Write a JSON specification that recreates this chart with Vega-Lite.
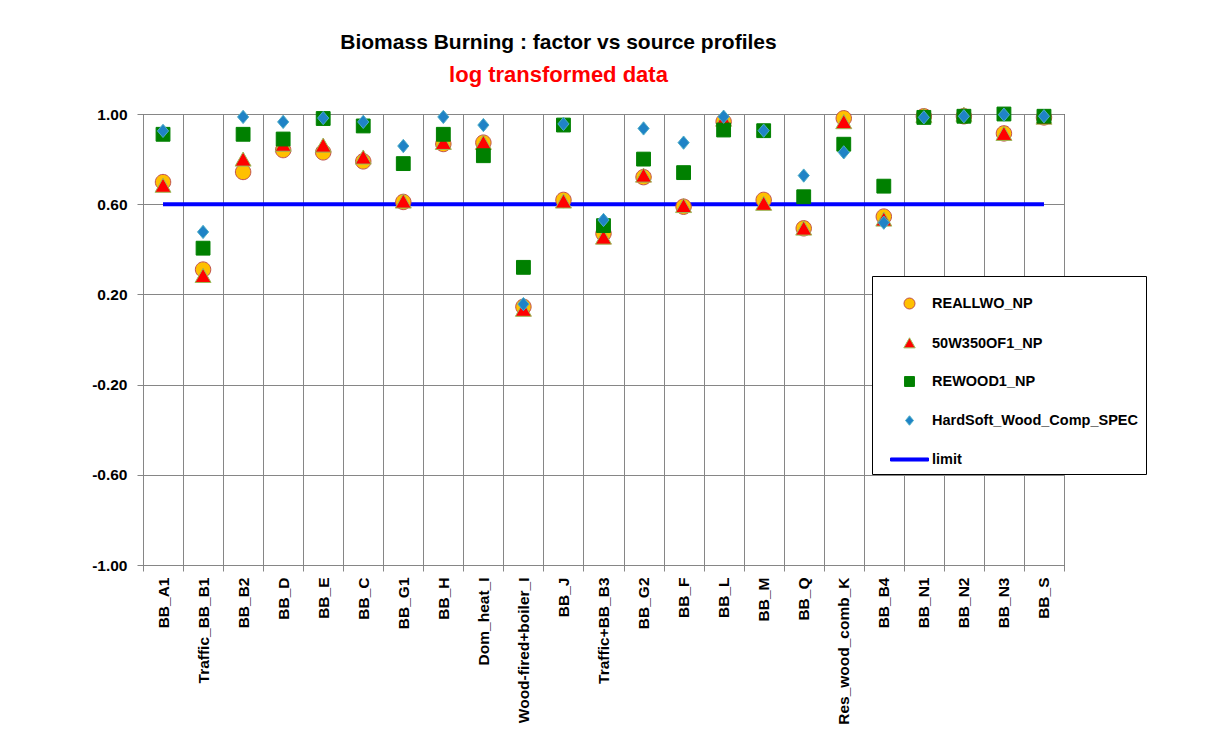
{
  "$schema": "https://vega.github.io/schema/vega-lite/v6.json",
  "width": 921,
  "height": 451,
  "autosize": {"type": "none"},
  "padding": {"left": 143, "top": 114, "right": 148, "bottom": 188},
  "background": "white",
  "title": {
    "text": "Biomass Burning : factor vs source profiles",
    "subtitle": "log transformed data",
    "anchor": "middle",
    "dx": -45,
    "offset": 19,
    "font": "Liberation Sans",
    "fontSize": 21,
    "fontWeight": "bold",
    "color": "black",
    "subtitleFont": "Liberation Sans",
    "subtitleFontSize": 22,
    "subtitleFontWeight": "bold",
    "subtitleColor": "#FF0000",
    "subtitlePadding": 12
  },
  "data": {
    "values": [
      {"cat": "BB_A1", "REALLWO_NP": 0.698, "50W350OF1_NP": 0.68, "REWOOD1_NP": 0.91, "HardSoft_Wood_Comp_SPEC": 0.925, "limit": 0.6},
      {"cat": "Traffic_BB_B1", "REALLWO_NP": 0.31, "50W350OF1_NP": 0.28, "REWOOD1_NP": 0.405, "HardSoft_Wood_Comp_SPEC": 0.477, "limit": 0.6},
      {"cat": "BB_B2", "REALLWO_NP": 0.743, "50W350OF1_NP": 0.796, "REWOOD1_NP": 0.91, "HardSoft_Wood_Comp_SPEC": 0.987, "limit": 0.6},
      {"cat": "BB_D", "REALLWO_NP": 0.84, "50W350OF1_NP": 0.862, "REWOOD1_NP": 0.889, "HardSoft_Wood_Comp_SPEC": 0.965, "limit": 0.6},
      {"cat": "BB_E", "REALLWO_NP": 0.83, "50W350OF1_NP": 0.858, "REWOOD1_NP": 0.98, "HardSoft_Wood_Comp_SPEC": 0.982, "limit": 0.6},
      {"cat": "BB_C", "REALLWO_NP": 0.79, "50W350OF1_NP": 0.805, "REWOOD1_NP": 0.947, "HardSoft_Wood_Comp_SPEC": 0.965, "limit": 0.6},
      {"cat": "BB_G1", "REALLWO_NP": 0.61, "50W350OF1_NP": 0.61, "REWOOD1_NP": 0.78, "HardSoft_Wood_Comp_SPEC": 0.858, "limit": 0.6},
      {"cat": "BB_H", "REALLWO_NP": 0.867, "50W350OF1_NP": 0.87, "REWOOD1_NP": 0.91, "HardSoft_Wood_Comp_SPEC": 0.987, "limit": 0.6},
      {"cat": "Dom_heat_I", "REALLWO_NP": 0.873, "50W350OF1_NP": 0.87, "REWOOD1_NP": 0.815, "HardSoft_Wood_Comp_SPEC": 0.951, "limit": 0.6},
      {"cat": "Wood-fired+boiler_I", "REALLWO_NP": 0.145, "50W350OF1_NP": 0.13, "REWOOD1_NP": 0.32, "HardSoft_Wood_Comp_SPEC": 0.157, "limit": 0.6},
      {"cat": "BB_J", "REALLWO_NP": 0.619, "50W350OF1_NP": 0.61, "REWOOD1_NP": 0.951, "HardSoft_Wood_Comp_SPEC": 0.956, "limit": 0.6},
      {"cat": "Traffic+BB_B3", "REALLWO_NP": 0.47, "50W350OF1_NP": 0.45, "REWOOD1_NP": 0.505, "HardSoft_Wood_Comp_SPEC": 0.53, "limit": 0.6},
      {"cat": "BB_G2", "REALLWO_NP": 0.72, "50W350OF1_NP": 0.725, "REWOOD1_NP": 0.8, "HardSoft_Wood_Comp_SPEC": 0.936, "limit": 0.6},
      {"cat": "BB_F", "REALLWO_NP": 0.589, "50W350OF1_NP": 0.59, "REWOOD1_NP": 0.74, "HardSoft_Wood_Comp_SPEC": 0.873, "limit": 0.6},
      {"cat": "BB_L", "REALLWO_NP": 0.966, "50W350OF1_NP": 0.973, "REWOOD1_NP": 0.929, "HardSoft_Wood_Comp_SPEC": 0.988, "limit": 0.6},
      {"cat": "BB_M", "REALLWO_NP": 0.619, "50W350OF1_NP": 0.6, "REWOOD1_NP": 0.926, "HardSoft_Wood_Comp_SPEC": 0.926, "limit": 0.6},
      {"cat": "BB_Q", "REALLWO_NP": 0.493, "50W350OF1_NP": 0.49, "REWOOD1_NP": 0.633, "HardSoft_Wood_Comp_SPEC": 0.727, "limit": 0.6},
      {"cat": "Res_wood_comb_K", "REALLWO_NP": 0.981, "50W350OF1_NP": 0.962, "REWOOD1_NP": 0.866, "HardSoft_Wood_Comp_SPEC": 0.83, "limit": 0.6},
      {"cat": "BB_B4", "REALLWO_NP": 0.545, "50W350OF1_NP": 0.53, "REWOOD1_NP": 0.68, "HardSoft_Wood_Comp_SPEC": 0.518, "limit": 0.6},
      {"cat": "BB_N1", "REALLWO_NP": 0.99, "50W350OF1_NP": 0.99, "REWOOD1_NP": 0.985, "HardSoft_Wood_Comp_SPEC": 0.985, "limit": 0.6},
      {"cat": "BB_N2", "REALLWO_NP": 0.99, "50W350OF1_NP": 0.995, "REWOOD1_NP": 0.99, "HardSoft_Wood_Comp_SPEC": 0.99, "limit": 0.6},
      {"cat": "BB_N3", "REALLWO_NP": 0.914, "50W350OF1_NP": 0.91, "REWOOD1_NP": 1.0, "HardSoft_Wood_Comp_SPEC": 0.997, "limit": 0.6},
      {"cat": "BB_S", "REALLWO_NP": 0.985, "50W350OF1_NP": 0.982, "REWOOD1_NP": 0.99, "HardSoft_Wood_Comp_SPEC": 0.99, "limit": 0.6}
    ]
  },
  "encoding": {
    "x": {
      "field": "cat",
      "type": "nominal",
      "sort": null,
      "title": null,
      "scale": {"type": "band", "paddingInner": 0, "paddingOuter": 0},
      "axis": {
        "labelAngle": -90,
        "labelAlign": "right",
        "labelBaseline": "middle",
        "labelFont": "Liberation Sans",
        "labelFontSize": 15.5,
        "labelFontWeight": "bold",
        "labelColor": "black",
        "labelPadding": 6,
        "tickBand": "extent",
        "tickSize": 6,
        "tickColor": "#868686",
        "domainColor": "#868686",
        "grid": true,
        "gridColor": "#868686",
        "gridWidth": 1,
        "labelLimit": 300
      }
    },
    "y": {
      "field": "value",
      "type": "quantitative",
      "title": null,
      "scale": {"domain": [-1, 1], "nice": false, "zero": false},
      "axis": {
        "values": [-1, -0.6, -0.2, 0.2, 0.6, 1],
        "format": ".2f",
        "labelExpr": "replace(datum.label, '\u2212', '-')",
        "labelFont": "Liberation Sans",
        "labelFontSize": 15.5,
        "labelFontWeight": "bold",
        "labelColor": "black",
        "labelPadding": 10,
        "tickSize": 6,
        "tickColor": "#868686",
        "domainColor": "#868686",
        "grid": true,
        "gridColor": "#868686",
        "gridWidth": 1
      }
    }
  },
  "layer": [
    {
      "transform": [{"fold": ["limit"], "as": ["series", "value"]}],
      "mark": {"type": "line", "strokeWidth": 4},
      "encoding": {
        "stroke": {"field": "series", "type": "nominal",
          "scale": {
            "domain": ["REALLWO_NP", "50W350OF1_NP", "REWOOD1_NP", "HardSoft_Wood_Comp_SPEC", "limit"],
            "range": ["#C0504D", "#9BBB59", "#008000", "#4BACC6", "#0000FF"]
          }
        }
      }
    },
    {
      "transform": [{"fold": ["REALLWO_NP", "50W350OF1_NP", "REWOOD1_NP", "HardSoft_Wood_Comp_SPEC"], "as": ["series", "value"]}],
      "mark": {"type": "point", "filled": true, "opacity": 1, "size": 2830, "strokeWidth": 1, "strokeOpacity": 1},
      "encoding": {
        "fill": {"field": "series", "type": "nominal",
          "scale": {
            "domain": ["REALLWO_NP", "50W350OF1_NP", "REWOOD1_NP", "HardSoft_Wood_Comp_SPEC", "limit"],
            "range": ["#FFC000", "#FF0000", "#008000", "#1F83C6", "#0000FF"]
          }
        },
        "stroke": {"field": "series", "type": "nominal"},
        "shape": {"field": "series", "type": "nominal",
          "scale": {
            "domain": ["REALLWO_NP", "50W350OF1_NP", "REWOOD1_NP", "HardSoft_Wood_Comp_SPEC", "limit"],
            "range": [
              "M-0.29,0A0.29,0.29 0 1,0 0.29,0A0.29,0.29 0 1,0 -0.29,0Z",
              "M0,-0.3L0.3,0.23L-0.3,0.23Z",
              "M-0.26,-0.26H0.26V0.26H-0.26Z",
              "M0,-0.25L0.21,0L0,0.25L-0.21,0Z",
              "M-1,-0.08H1V0.08H-1Z"
            ]
          }
        }
      }
    }
  ],
  "resolve": {"scale": {"stroke": "shared"}},
  "config": {
    "view": {"stroke": "black", "strokeWidth": 1},
    "font": "Liberation Sans",
    "legend": {
      "title": null,
      "orient": "none",
      "legendX": 729,
      "legendY": 162,
      "padding": 8,
      "symbolOffset": 10,
      "rowPadding": 12,
      "symbolSize": 1444,
      "symbolStrokeWidth": 1,
      "labelFont": "Liberation Sans",
      "labelFontSize": 14.5,
      "labelFontWeight": "bold",
      "labelColor": "black",
      "labelOffset": 3,
      "labelLimit": 400,
      "fillColor": "white",
      "strokeColor": "black"
    }
  }
}
